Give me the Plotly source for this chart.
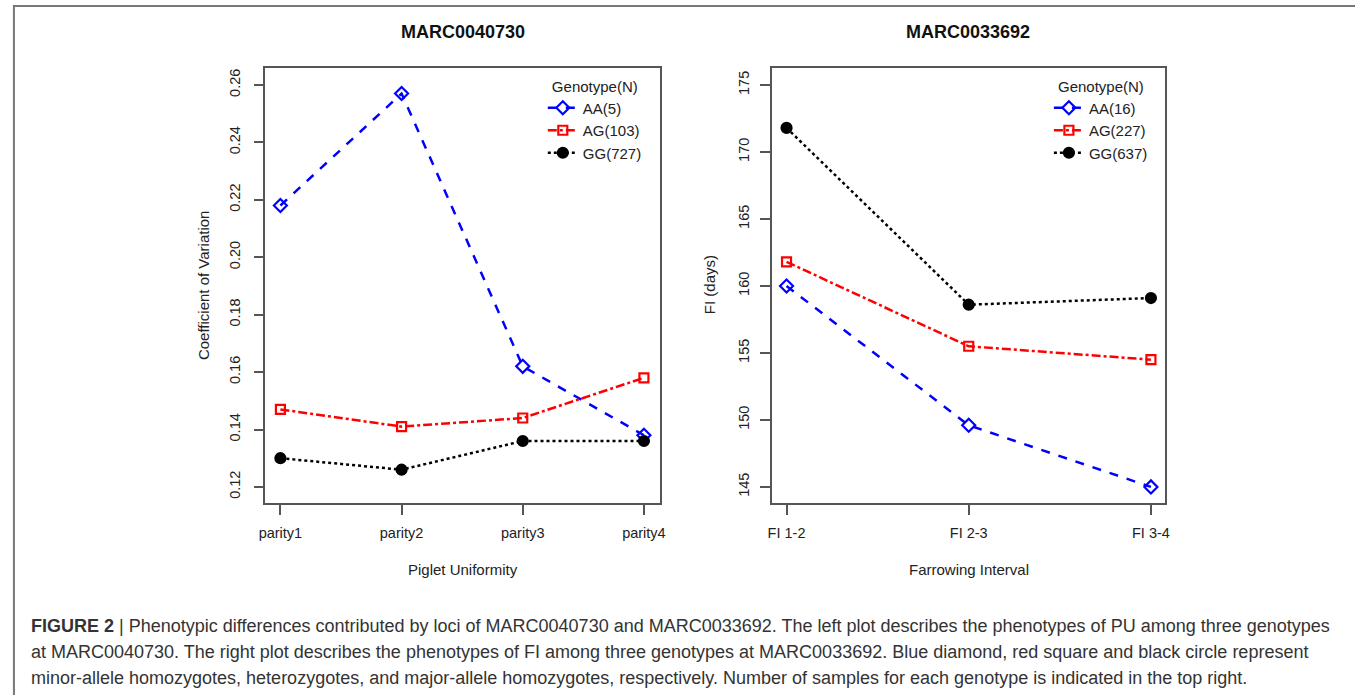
import plotly.graph_objects as go

# ---- data ----
parities = ["parity1", "parity2", "parity3", "parity4"]
pu_AA = [0.218, 0.257, 0.162, 0.138]
pu_AG = [0.147, 0.141, 0.144, 0.158]
pu_GG = [0.130, 0.126, 0.136, 0.136]

intervals = ["FI 1-2", "FI 2-3", "FI 3-4"]
fi_AA = [160.0, 149.6, 145.0]
fi_AG = [161.8, 155.5, 154.5]
fi_GG = [171.8, 158.6, 159.1]

left_names = ["AA(5)", "AG(103)", "GG(727)"]
right_names = ["AA(16)", "AG(227)", "GG(637)"]

W, H = 1355, 695
FONT = "Liberation Sans, Arial, sans-serif"


def px(x):
    return x / W


def py(y):
    return 1 - y / H


styles = [
    dict(color="blue", dash="dash", symbol="diamond-open", size=10),
    dict(color="red", dash="dashdot", symbol="square-open", size=9),
    dict(color="black", dash="dot", symbol="circle", size=10),
]

fig = go.Figure()

for vals, name, st in zip([pu_AA, pu_AG, pu_GG], left_names, styles):
    fig.add_trace(go.Scatter(
        x=parities, y=vals, name=name, mode="lines+markers",
        line=dict(color=st["color"], dash=st["dash"], width=2.5),
        marker=dict(symbol=st["symbol"], size=st["size"], color=st["color"],
                    line=dict(color=st["color"], width=2.2)),
        xaxis="x", yaxis="y", legend="legend"))

for vals, name, st in zip([fi_AA, fi_AG, fi_GG], right_names, styles):
    fig.add_trace(go.Scatter(
        x=intervals, y=vals, name=name, mode="lines+markers",
        line=dict(color=st["color"], dash=st["dash"], width=2.5),
        marker=dict(symbol=st["symbol"], size=st["size"], color=st["color"],
                    line=dict(color=st["color"], width=2.2)),
        xaxis="x2", yaxis="y2", legend="legend2"))

axis_common = dict(
    showgrid=False, zeroline=False, showline=True, mirror=True,
    linecolor="#555", linewidth=1.5, ticks="outside", ticklen=10,
    tickcolor="#555", tickwidth=1.5,
    tickfont=dict(family=FONT, size=14.5, color="#222"),
)

legend_common = dict(
    bgcolor="rgba(0,0,0,0)", borderwidth=0,
    font=dict(family=FONT, size=15, color="#222"),
    title=dict(font=dict(family=FONT, size=15, color="#222"), side="top center"),
    xanchor="left", yanchor="top", tracegroupgap=0, itemwidth=30,
)

fig.update_layout(
    width=W, height=H, margin=dict(l=0, r=0, t=0, b=0),
    paper_bgcolor="white", plot_bgcolor="white",
    font=dict(family=FONT, color="#222"),
    xaxis=dict(domain=[px(261), px(659)], range=[-0.123, 3.13], type="category",
               anchor="y", ticklabelstandoff=6, **axis_common),
    yaxis=dict(domain=[py(503), py(68)], range=[0.1144, 0.2659],
               tickvals=[0.12, 0.14, 0.16, 0.18, 0.20, 0.22, 0.24, 0.26],
               tickformat=".2f", tickangle=-90, anchor="x", ticklabelstandoff=8,
               **axis_common),
    xaxis2=dict(domain=[px(772), px(1169)], range=[-0.082, 2.076], type="category",
                anchor="y2", ticklabelstandoff=6, **axis_common),
    yaxis2=dict(domain=[py(503), py(68)], range=[143.8, 176.27],
                tickvals=[145, 150, 155, 160, 165, 170, 175],
                tickangle=-90, anchor="x2", ticklabelstandoff=5, **axis_common),
    legend=dict(x=px(541), y=py(72), title_text="Genotype(N)", **legend_common),
    legend2=dict(x=px(1052), y=py(72), title_text="Genotype(N)", **legend_common),
    showlegend=True,
)

ann = []


def text(t, x, y, size=15, color="#222", angle=0, xanchor="center"):
    ann.append(dict(text=t, x=px(x), y=py(y), xref="paper", yref="paper",
                    xanchor=xanchor, yanchor="middle", showarrow=False,
                    textangle=angle, font=dict(family=FONT, size=size, color=color)))


# panel titles
text("<b>MARC0040730</b>", 460, 32, size=18, color="#111")
text("<b>MARC0033692</b>", 970, 32, size=18, color="#111")
# axis titles
text("Piglet Uniformity", 460, 569)
text("Farrowing Interval", 971, 569)
text("Coefficient of Variation", 198, 285, angle=-90)
text("FI (days)", 709, 285, angle=-90)

caption = [
    "<b>FIGURE 2</b> | Phenotypic differences contributed by loci of MARC0040730 and MARC0033692. The left plot describes the phenotypes of PU among three genotypes",
    "at MARC0040730. The right plot describes the phenotypes of FI among three genotypes at MARC0033692. Blue diamond, red square and black circle represent",
    "minor-allele homozygotes, heterozygotes, and major-allele homozygotes, respectively. Number of samples for each genotype is indicated in the top right.",
]
for i, line in enumerate(caption):
    text(line, 22, 626 + 26 * i, size=18, color="#333", xanchor="left")

fig.update_layout(annotations=ann)

# outer frame (top and left edges visible)
fig.add_shape(type="rect", xref="paper", yref="paper",
              x0=px(7), x1=1.02, y0=-0.02, y1=py(6),
              line=dict(color="#777", width=2), fillcolor="rgba(0,0,0,0)", layer="below")

fig.write_html("out.html")
